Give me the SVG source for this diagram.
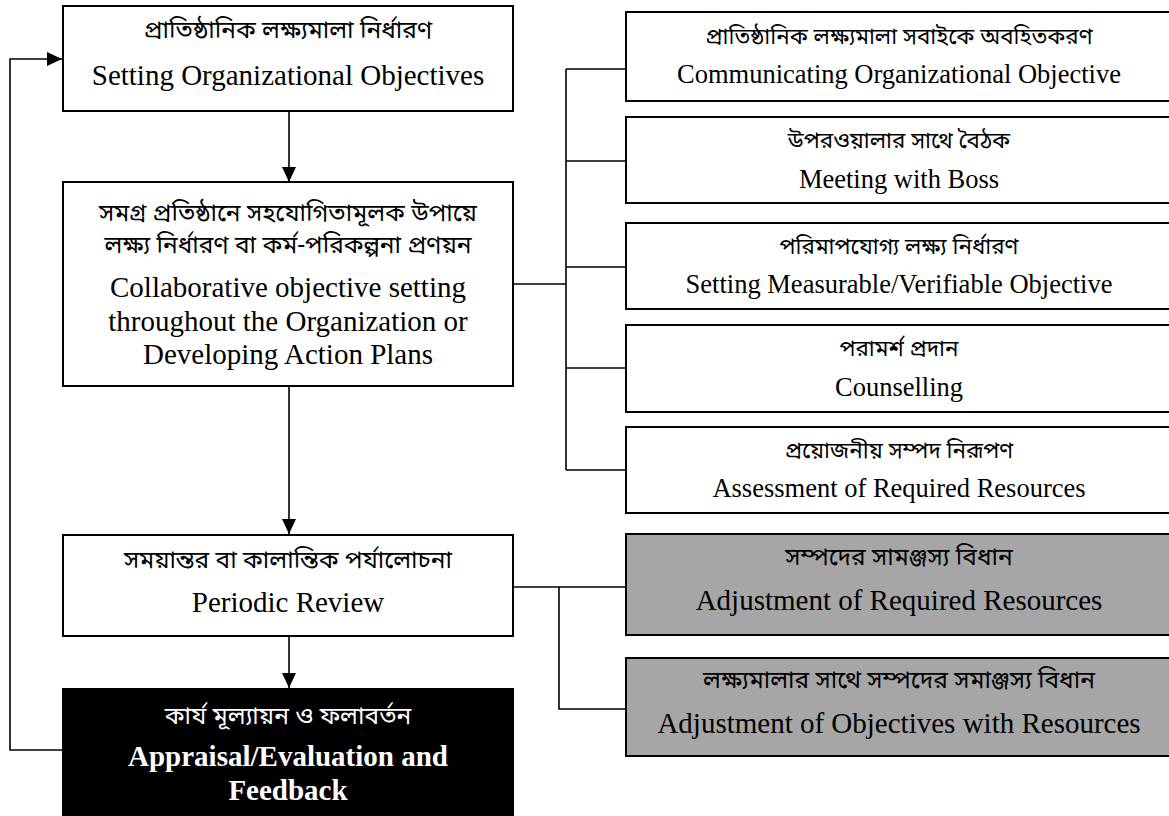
<svg xmlns="http://www.w3.org/2000/svg" width="1169" height="816" viewBox="0 0 1169 816">
<style>
.box{fill:#fff;stroke:#000;stroke-width:2}
.grey{fill:#a6a6a6;stroke:#000;stroke-width:2}
.dark{fill:#000;stroke:#000;stroke-width:2}
.bn{font-family:"Noto Sans Bengali","Noto Serif Bengali","Lohit Bengali","FreeSerif","Noto Sans",sans-serif;text-anchor:middle;fill:#000}
.en{font-family:"Liberation Serif","Times New Roman",serif;text-anchor:middle;fill:#000}
.w{fill:#fff}
.b{font-weight:bold}
.L{font-size:24.5px}
.R{font-size:22.4px}
.G{font-size:24.5px}
.con{fill:none;stroke:#000;stroke-width:1.6}
</style>
<defs>
<marker id="ah" markerUnits="userSpaceOnUse" markerWidth="16" markerHeight="16" viewBox="0 0 16 16" refX="15" refY="8" orient="auto">
<path d="M0,1 L15,8 L0,15 Z" fill="#000"/>
</marker>
</defs>
<g id="connectors">
<line class="con" x1="289" y1="111" x2="289" y2="182" marker-end="url(#ah)"/>
<line class="con" x1="289" y1="386" x2="289" y2="534" marker-end="url(#ah)"/>
<line class="con" x1="289" y1="636" x2="289" y2="688" marker-end="url(#ah)"/>
<polyline class="con" points="63,750 10,750 10,59 62,59" marker-end="url(#ah)"/>
<polyline class="con" points="514,284 566,284"/>
<line class="con" x1="566" y1="69" x2="566" y2="470"/>
<line class="con" x1="566" y1="69" x2="626" y2="69"/>
<line class="con" x1="566" y1="161" x2="626" y2="161"/>
<line class="con" x1="566" y1="267" x2="626" y2="267"/>
<line class="con" x1="566" y1="368" x2="626" y2="368"/>
<line class="con" x1="566" y1="470" x2="626" y2="470"/>
<line class="con" x1="514" y1="587" x2="626" y2="587"/>
<polyline class="con" points="559,587 559,709 626,709"/>
</g>
<g id="n1">
<rect class="box" x="63" y="6" width="450" height="105"/>
<text class="bn L" x="288" y="38">প্রাতিষ্ঠানিক লক্ষ্যমালা নির্ধারণ</text>
<text class="en" x="288" y="85" font-size="29">Setting Organizational Objectives</text>
</g>
<g id="n2">
<rect class="box" x="63" y="182" width="450" height="204"/>
<text class="bn L" x="288" y="221">সমগ্র প্রতিষ্ঠানে সহযোগিতামূলক উপায়ে</text>
<text class="bn L" x="288" y="253">লক্ষ্য নির্ধারণ বা কর্ম-পরিকল্পনা প্রণয়ন</text>
<text class="en" x="288" y="297" font-size="29">Collaborative objective setting</text>
<text class="en" x="288" y="331" font-size="29">throughout the Organization or</text>
<text class="en" x="288" y="364" font-size="29">Developing Action Plans</text>
</g>
<g id="n3">
<rect class="box" x="63" y="535" width="450" height="101"/>
<text class="bn L" x="288" y="568">সময়ান্তর বা কালান্তিক পর্যালোচনা</text>
<text class="en" x="288" y="612" font-size="29">Periodic Review</text>
</g>
<g id="n4">
<rect class="dark" x="63" y="689" width="450" height="130"/>
<text class="bn L w" x="288" y="724">কার্য মূল্যায়ন ও ফলাবর্তন</text>
<text class="en w b" x="288" y="766" font-size="29">Appraisal/Evaluation and</text>
<text class="en w b" x="288" y="800" font-size="29">Feedback</text>
</g>
<g id="r1">
<rect class="box" x="626" y="12" width="548" height="89"/>
<text class="bn R" x="899" y="44">প্রাতিষ্ঠানিক লক্ষ্যমালা সবাইকে অবহিতকরণ</text>
<text class="en" x="899" y="83" font-size="26.5">Communicating Organizational Objective</text>
</g>
<g id="r2">
<rect class="box" x="626" y="117" width="548" height="86"/>
<text class="bn R" x="899" y="148">উপরওয়ালার সাথে বৈঠক</text>
<text class="en" x="899" y="188" font-size="26.5">Meeting with Boss</text>
</g>
<g id="r3">
<rect class="box" x="626" y="223" width="548" height="86"/>
<text class="bn R" x="899" y="254">পরিমাপযোগ্য লক্ষ্য নির্ধারণ</text>
<text class="en" x="899" y="293" font-size="26.5">Setting Measurable/Verifiable Objective</text>
</g>
<g id="r4">
<rect class="box" x="626" y="325" width="548" height="87"/>
<text class="bn R" x="899" y="356">পরামর্শ প্রদান</text>
<text class="en" x="899" y="396" font-size="26.5">Counselling</text>
</g>
<g id="r5">
<rect class="box" x="626" y="427" width="548" height="86"/>
<text class="bn R" x="899" y="458">প্রয়োজনীয় সম্পদ নিরূপণ</text>
<text class="en" x="899" y="497" font-size="26.5">Assessment of Required Resources</text>
</g>
<g id="g1">
<rect class="grey" x="626" y="534" width="548" height="101"/>
<text class="bn G" x="899" y="565">সম্পদের সামঞ্জস্য বিধান</text>
<text class="en" x="899" y="610" font-size="29">Adjustment of Required Resources</text>
</g>
<g id="g2">
<rect class="grey" x="626" y="658" width="548" height="98"/>
<text class="bn G" x="899" y="688">লক্ষ্যমালার সাথে সম্পদের সমাঞ্জস্য বিধান</text>
<text class="en" x="899" y="733" font-size="29">Adjustment of Objectives with Resources</text>
</g>
</svg>
